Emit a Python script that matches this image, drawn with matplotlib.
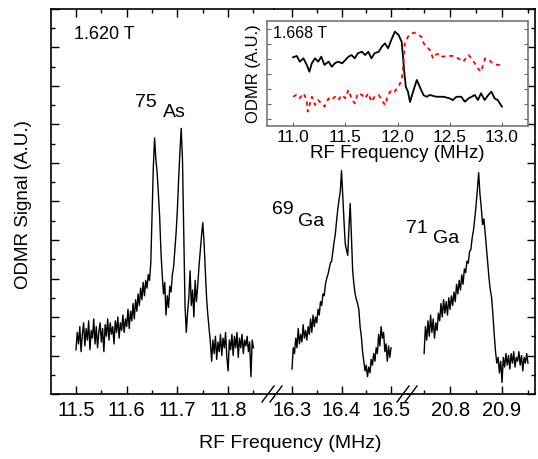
import numpy as np
import matplotlib
matplotlib.use("Agg")
import matplotlib.pyplot as plt
from matplotlib.ticker import MultipleLocator

plt.rcParams['font.family'] = ['Liberation Sans', 'DejaVu Sans']

# ---- main spectrum, three windows (MHz, arb. units) ----
as75_freq = np.arange(141) * 0.0025 + 11.50
as75_sig = [
    1.15, 1.60, 1.30, 1.75, 1.10, 1.55, 1.85, 1.25, 1.70, 1.40,
    1.90, 1.15, 1.65, 1.45, 1.95, 1.30, 1.75, 1.20, 1.60, 1.85,
    1.35, 1.70, 1.10, 1.80, 1.50, 1.95, 1.40, 1.85, 1.55, 1.75,
    1.30, 1.90, 1.60, 2.00, 1.45, 1.85, 1.65, 2.05, 1.60, 1.95,
    1.75, 2.20, 1.70, 2.15, 1.90, 2.35, 1.95, 2.45, 2.15, 2.60,
    2.30, 2.75, 2.45, 2.90, 2.55, 2.95, 2.75, 3.10, 2.95, 3.40,
    4.60, 5.90, 6.65, 6.10, 5.75, 5.20, 4.60, 3.70, 3.10, 2.60,
    2.90, 2.05, 2.55, 2.25, 2.80, 2.65, 3.10, 3.30, 3.75, 4.20,
    4.80, 5.60, 6.30, 6.90, 6.10, 4.20, 2.30, 1.60, 2.10, 2.50,
    3.20, 2.30, 2.70, 2.00, 2.95, 2.40, 2.80, 3.30, 3.70, 4.10,
    4.45, 3.95, 3.20, 2.50, 2.05, 1.70, 1.35, 0.85, 1.40, 1.05,
    1.50, 0.90, 1.35, 1.10, 1.55, 1.00, 1.45, 1.20, 1.60, 0.95,
    0.60, 1.40, 1.15, 1.55, 1.00, 1.50, 1.20, 1.60, 0.95, 1.45,
    1.20, 1.55, 1.05, 1.40, 1.25, 1.50, 1.10, 1.35, 0.45, 1.40,
    1.20,
]

ga69_freq = np.arange(81) * 0.0025 + 16.30
ga69_sig = [
    0.65, 1.20, 1.05, 1.45, 1.20, 1.70, 1.30, 1.55, 1.35, 1.80,
    1.45, 1.65, 1.40, 1.75, 1.55, 1.95, 1.60, 2.05, 1.75, 2.00,
    1.85, 2.20, 2.05, 2.40, 2.30, 2.60, 2.55, 2.85, 3.00, 3.10,
    3.25, 3.40, 3.45, 3.70, 3.95, 4.15, 4.50, 4.80, 5.05, 5.25,
    5.80, 5.15, 4.50, 3.90, 3.75, 3.60, 4.30, 4.95, 4.10, 3.20,
    2.85, 2.60, 2.45, 2.35, 2.20, 1.75, 1.50, 1.10, 0.85, 0.60,
    0.75, 0.45, 0.70, 0.55, 0.90, 0.75, 1.05, 0.85, 1.20, 1.05,
    1.55, 1.25, 1.75, 1.45, 1.60, 1.10, 1.30, 0.85, 1.25, 0.95,
    1.20,
]

ga71_freq = np.arange(81) * 0.0025 + 20.75
ga71_sig = [
    1.05, 1.75, 1.40, 1.90, 1.50, 2.05, 1.60, 1.95, 1.45, 1.85,
    1.65, 2.10, 1.90, 2.35, 2.00, 2.45, 2.10, 2.40, 2.05, 2.50,
    2.20, 2.55, 2.30, 2.65, 2.40, 2.85, 2.60, 2.95, 2.70, 3.10,
    2.85, 3.25, 3.15, 3.45, 3.40, 3.70, 3.75, 4.05, 4.25, 4.55,
    4.90, 5.30, 5.75, 5.20, 4.85, 4.40, 4.55, 4.20, 3.80, 3.40,
    3.00, 2.70, 2.50, 2.05, 1.55, 1.10, 0.80, 0.95, 0.55, 0.85,
    0.30, 0.95, 0.70, 1.05, 0.75, 1.00, 0.65, 1.05, 0.80, 1.10,
    0.70, 0.95, 0.85, 1.10, 0.75, 1.00, 0.60, 0.95, 0.80, 1.05,
    0.80,
]

# ---- inset, 1.668 T ----
ins_black_freq = [
    11.00, 11.035, 11.064, 11.099, 11.131, 11.156, 11.179, 11.21, 11.24, 11.27,
    11.30, 11.34, 11.37, 11.40, 11.43, 11.47, 11.50, 11.53, 11.56, 11.59,
    11.62, 11.66, 11.69, 11.72, 11.75, 11.78, 11.82, 11.85, 11.88, 11.91,
    11.94, 11.975, 12.01, 12.04, 12.055, 12.065, 12.08, 12.10, 12.12, 12.15,
    12.185, 12.22, 12.25, 12.28, 12.31, 12.37, 12.44, 12.50, 12.53, 12.565,
    12.61, 12.645, 12.68, 12.71, 12.74, 12.77, 12.80, 12.835, 12.87, 12.90,
    12.93, 12.96, 13.00,
]
ins_black_sig = [
    4.58, 4.67, 4.29, 4.51, 4.07, 3.62, 4.18, 4.51, 4.29, 4.62,
    4.07, 4.29, 3.95, 4.18, 4.29, 4.18, 4.40, 4.62, 4.73, 4.51,
    4.85, 4.95, 4.73, 4.95, 4.51, 4.85, 4.95, 5.29, 5.51, 5.18,
    5.73, 6.29, 6.07, 5.62, 4.40, 3.60, 2.60, 2.30, 1.60, 2.30,
    3.07, 2.50, 2.05, 1.95, 2.07, 1.95, 1.95, 1.84, 1.73, 1.95,
    1.95, 1.62, 1.84, 1.95, 2.07, 1.73, 2.18, 1.73, 2.07, 2.29,
    1.84, 1.73, 1.29,
]
ins_red_freq = [
    11.00, 11.03, 11.06, 11.10, 11.13, 11.14, 11.18, 11.21, 11.24, 11.27,
    11.30, 11.34, 11.37, 11.40, 11.43, 11.47, 11.50, 11.53, 11.56, 11.59,
    11.62, 11.66, 11.69, 11.72, 11.75, 11.78, 11.82, 11.85, 11.88, 11.91,
    11.94, 11.97, 12.01, 12.04, 12.055, 12.07, 12.10, 12.135, 12.165, 12.20,
    12.23, 12.25, 12.28, 12.31, 12.34, 12.36, 12.40, 12.43, 12.48, 12.53,
    12.58, 12.63, 12.68, 12.71, 12.74, 12.77, 12.80, 12.84, 12.88, 12.91,
    12.96, 13.00,
]
ins_red_sig = [
    1.95, 2.07, 1.84, 2.18, 1.73, 0.96, 1.95, 1.40, 1.73, 1.51,
    1.29, 1.84, 1.73, 1.95, 1.73, 2.07, 1.84, 2.40, 1.84, 1.51,
    2.18, 2.07, 1.84, 2.18, 1.62, 1.95, 2.07, 1.73, 1.40, 2.07,
    2.40, 2.29, 2.62, 3.07, 3.95, 5.51, 5.95, 6.18, 6.22, 6.07,
    5.95, 5.51, 5.29, 5.07, 4.51, 4.73, 4.84, 4.62, 4.67, 4.67,
    4.51, 4.29, 4.73, 4.51, 4.18, 3.84, 3.62, 4.51, 4.40, 4.18,
    4.07, 4.07,
]

W, H = 538, 459
fig = plt.figure(figsize=(W / 100, H / 100), dpi=100)


def px_axes(x0, x1, y0, y1):
    # pixel box (top-left origin) -> figure axes
    return fig.add_axes([x0 / W, 1 - y1 / H, (x1 - x0) / W, (y1 - y0) / H])


ax1 = px_axes(51, 274, 9, 394)
ax2 = px_axes(274, 408, 9, 394)
ax3 = px_axes(408, 535, 9, 394)

segs = [
    (ax1, as75_freq, as75_sig, (11.4507, 11.8905), [11.5, 11.6, 11.7, 11.8]),
    (ax2, ga69_freq, ga69_sig, (16.2636, 16.5343), [16.3, 16.4, 16.5]),
    (ax3, ga71_freq, ga71_sig, (20.719, 20.9635), [20.8, 20.9]),
]
for ax, f, s, lim, ticks in segs:
    ax.plot(f, s, color='black', lw=1.0)
    ax.set_xlim(*lim)
    ax.set_ylim(0, 10)
    ax.set_xticks(ticks)
    ax.set_xticklabels(['%.1f' % t for t in ticks])
    ax.xaxis.set_minor_locator(MultipleLocator(0.05))
    ax.yaxis.set_major_locator(MultipleLocator(1))
    ax.yaxis.set_minor_locator(MultipleLocator(0.5))
    ax.tick_params(which='both', direction='in', top=True, bottom=True,
                   left=False, right=False, labelleft=False, labelsize=14.5,
                   width=1.0, pad=5)
    ax.tick_params(which='major', length=5.5)
    ax.tick_params(which='minor', length=3)
    for sp in ax.spines.values():
        sp.set_linewidth(1.2)
    ax.patch.set_alpha(0)

ax1.spines['right'].set_visible(False)
ax2.spines['left'].set_visible(False)
ax2.spines['right'].set_visible(False)
ax3.spines['left'].set_visible(False)
ax1.tick_params(which='both', left=True)
ax3.tick_params(which='both', right=True, labelright=False)

# break marks on the bottom axis
for xc in (272, 407):
    for dx in (-4, 4):
        fig.add_artist(plt.Line2D([(xc + dx - 6) / W, (xc + dx + 6) / W],
                                  [1 - 402 / H, 1 - 386 / H],
                                  color='black', lw=1.0))

fig.text(290 / W, 1 - 443 / H, 'RF Frequency (MHz)', ha='center', va='center', fontsize=14)
fig.text(24 / W, 1 - 205 / H, 'ODMR Signal (A.U.)', ha='center', va='center',
         rotation=90, fontsize=13.5)

ax1.text(11.555, 9.35, '1.620 T', ha='center', va='center', fontsize=13)
ax1.text(11.638, 7.58, '75', ha='center', va='center', fontsize=14)
ax1.text(11.695, 7.32, 'As', ha='center', va='center', fontsize=14)
ax2.text(16.282, 4.78, '69', ha='center', va='center', fontsize=14, clip_on=False)
ax2.text(16.338, 4.49, 'Ga', ha='center', va='center', fontsize=14)
ax3.text(20.737, 4.29, '71', ha='center', va='center', fontsize=14)
ax3.text(20.792, 4.03, 'Ga', ha='center', va='center', fontsize=14)

# inset
axi = px_axes(267, 528, 21, 126)
axi.plot(ins_black_freq, ins_black_sig, color='black', lw=1.3)
axi.plot(ins_red_freq, ins_red_sig, color='red', lw=1.3, ls=(0, (2.2, 2.2)))
axi.set_xlim(10.75, 13.25)
axi.set_ylim(0, 7)
axi.set_xticks([11.0, 11.5, 12.0, 12.5, 13.0])
axi.set_xticklabels(['11.0', '11.5', '12.0', '12.5', '13.0'])
axi.set_yticks([0.5, 1.5, 2.5, 3.5, 4.5, 5.5, 6.5])
axi.tick_params(axis='both', direction='in', length=3, width=0.8, color='#666666',
                labelsize=12.5, pad=3, right=True, labelleft=False)
axi.set_xlabel('RF Frequency (MHz)', fontsize=13.5, labelpad=0)
axi.set_ylabel('ODMR (A.U.)', fontsize=12, labelpad=4)
for sp in axi.spines.values():
    sp.set_color('#777777')
    sp.set_linewidth(1.2)
axi.text(11.07, 6.2, '1.668 T', ha='center', va='center', fontsize=11.5)

fig.savefig('out.png', dpi=100)
